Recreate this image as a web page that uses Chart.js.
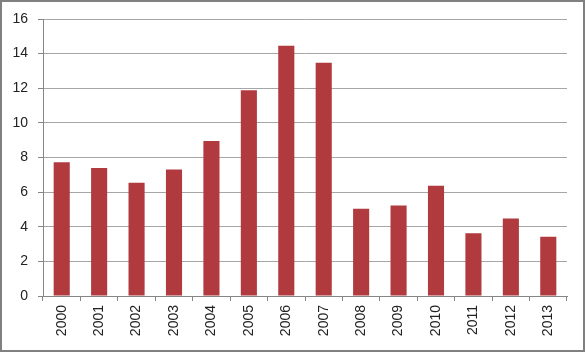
<!DOCTYPE html>
<html>
<head>
<meta charset="utf-8">
<script src="https://cdn.jsdelivr.net/npm/chart.js@4/dist/chart.umd.min.js"></script>
<style>
html,body{margin:0;padding:0;background:#fff;}
#wrap{width:585px;height:352px;position:relative;}
</style>
</head>
<body>
<div id="wrap"><canvas id="c" width="585" height="352"></canvas></div>
<script>
const categories = ["2000","2001","2002","2003","2004","2005","2006","2007","2008","2009","2010","2011","2012","2013"];
const values = [7.72, 7.39, 6.54, 7.30, 8.96, 11.89, 14.46, 13.47, 5.04, 5.23, 6.37, 3.63, 4.48, 3.42];
const yTicks = [0, 2, 4, 6, 8, 10, 12, 14, 16];

const borderPlugin = {
  id: 'outerBorder',
  afterDraw(chart) {
    const ctx = chart.ctx;
    ctx.save();
    ctx.strokeStyle = '#808080';
    ctx.lineWidth = 2;
    ctx.strokeRect(1, 1, chart.width - 2, chart.height - 2);
    ctx.restore();
  }
};
const bgPlugin = {
  id: 'bg',
  beforeDraw(chart) {
    const ctx = chart.ctx;
    ctx.save();
    ctx.fillStyle = '#fff';
    ctx.fillRect(0, 0, chart.width, chart.height);
    ctx.restore();
  }
};

new Chart(document.getElementById('c'), {
  type: 'bar',
  data: {
    labels: categories,
    datasets: [{
      data: values,
      backgroundColor: '#b03a3e',
      barPercentage: 0.43,
      categoryPercentage: 1.0
    }]
  },
  options: {
    responsive: false,
    animation: false,
    devicePixelRatio: 1,
    layout: { padding: { left: 0, right: 18, top: 19, bottom: 0 } },
    plugins: { legend: { display: false }, tooltip: { enabled: false } },
    scales: {
      x: {
        afterFit(s) { s.height = 56; },
        grid: { offset: true, drawOnChartArea: false, color: '#868686', tickLength: 5, tickColor: '#868686' },
        border: { color: '#868686', width: 1 },
        ticks: { minRotation: 90, maxRotation: 90, padding: 4, color: '#222', font: { family: 'Liberation Sans', size: 14 } }
      },
      y: {
        min: 0, max: 16,
        afterFit(s) { s.width = 43; },
        afterBuildTicks(s) { s.ticks = yTicks.map(v => ({ value: v })); },
        grid: { color: '#a6a6a6', tickLength: 5, tickColor: '#868686' },
        border: { color: '#868686', width: 1 },
        ticks: { padding: 10, color: '#222', font: { family: 'Liberation Sans', size: 14 } }
      }
    }
  },
  plugins: [bgPlugin, borderPlugin]
});
</script>
</body>
</html>
